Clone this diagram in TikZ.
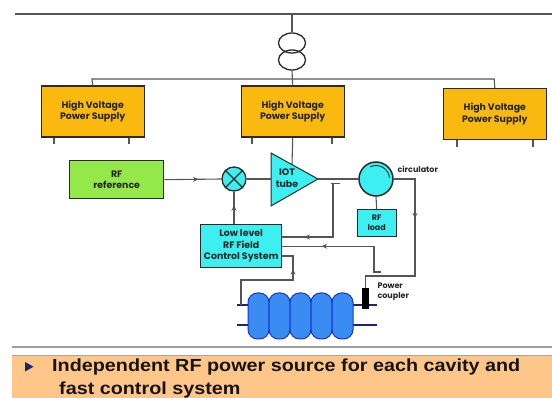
\documentclass[tikz,border=0pt]{standalone}
\usepackage{fontspec}
\setmainfont{Liberation Sans}
\newfontfamily\boxfam{Poppins}
\usetikzlibrary{decorations.markings,arrows.meta,shapes.geometric}
\definecolor{hvyellow}{HTML}{F9B90F}
\definecolor{rfgreen}{HTML}{94E84A}
\definecolor{cyanfill}{HTML}{3CEFF0}
\definecolor{linegray}{HTML}{555555}
\definecolor{edgedark}{HTML}{2A2A2A}
\definecolor{cavblue}{HTML}{3B8CF2}
\definecolor{cavedge}{HTML}{1436C8}
\definecolor{pipenavy}{HTML}{1A2380}
\definecolor{band}{HTML}{FFC68A}
\definecolor{bulletnavy}{HTML}{14286E}
\newcommand\dgfont{\boxfam\bfseries\fontsize{9.4}{11.5}\selectfont}
\newcommand\smfont{\boxfam\bfseries\fontsize{8}{10}\selectfont}
\begin{document}
\begin{tikzpicture}[x=1pt,y=-1pt,
  wire/.style={draw=linegray,line width=1.1pt},
  blk/.style={draw=edgedark,line width=1.4pt,anchor=north west,inner sep=0pt,align=center,font=\dgfont,text=black!85},
  hvbox/.style={blk,fill=hvyellow,minimum width=103pt,minimum height=51pt},
  midarrow/.style={postaction={decorate},decoration={markings,mark=at position #1 with {\arrow[fill=linegray,draw=linegray]{Stealth[length=5.5pt,width=5pt]}}}},
  trafo/.style={ellipse,draw=edgedark,line width=1.3pt,minimum width=27pt,minimum height=20pt,inner sep=0pt},
  cell/.style={draw=cavedge,line width=1pt,fill=cavblue,rounded corners=9.5pt,minimum width=21pt,minimum height=46pt,inner sep=0pt},
  pipe/.style={draw=pipenavy,line width=1.5pt},
]
\useasboundingbox (0,0) rectangle (552,398);

% grid line and transformer
\coordinate (gridl) at (15,14);
\coordinate (gridr) at (552,14);
\coordinate (tap) at (292,14);
\draw[wire] (gridl) -- (gridr);
\node[trafo] (tr1) at (292,43) {};
\node[trafo] (tr2) at (292,60) {};
\draw[wire] (tap) -- (tr1.north);

% HV supplies
\node[hvbox] (hv1) at (40.5,85.5) {High Voltage\\Power Supply};
\node[hvbox] (hv2) at (240.5,85.5) {High Voltage\\Power Supply};
\node[hvbox] (hv3) at (442.6,88) {High Voltage\\Power Supply};
\coordinate (busl) at (92,79);
\coordinate (busr) at (494.2,79);
\draw[wire] (tr2.south) -- (hv2.north);
\draw[wire] (hv1.north) -- (busl) -- (busr) -- (hv3.north);
\foreach \n/\a/\b in {hv1/54/129,hv2/252/332,hv3/457/533}{
  \draw[wire] (\n.south -| \a,0) -- ++(0,6.5);
  \draw[wire] (\n.south -| \b,0) -- ++(0,6.5);
}

% RF reference and mixer
\node[blk,fill=rfgreen,minimum width=94pt,minimum height=38pt] (ref) at (69,160) {RF\\reference};
\node[circle,draw=edgedark,line width=1.3pt,fill=cyanfill,minimum size=24pt,inner sep=0pt] (mix) at (234,179) {};
\draw[line width=1.2pt,draw=edgedark] (mix.north west) -- (mix.south east) (mix.north east) -- (mix.south west);
\draw[wire,midarrow=0.6] (ref.east) -- (mix.west);

% IOT tube
\coordinate (iotA) at (271,153);
\coordinate (iotB) at (271,206);
\coordinate (iotC) at (318,179);
\coordinate (iotpwr) at (292,164.6);
\draw[wire] (hv2.south) -- (iotpwr);
\draw[draw=edgedark,line width=1pt,fill=cyanfill] (iotA) -- (iotC) -- (iotB) -- cycle;
\node[font=\dgfont,align=center,text=black!85] (iot) at (287,178) {IOT\\tube};
\draw[wire] (mix.east) -- (mix.east -| iotA);

% circulator and RF load
\node[circle,draw=edgedark,line width=1.5pt,fill=cyanfill,minimum size=34pt,inner sep=0pt] (circ) at (376,179) {};
\draw[draw=edgedark,line width=0.9pt] (circ.center) ++(-115:13.5) arc[start angle=-115,end angle=-5,radius=13.5];
\node[font=\smfont,anchor=west,text=black!85] (circlab) at (394,169) {circulator};
\node[blk,fill=cyanfill,minimum width=39pt,minimum height=27pt,font=\smfont] (load) at (356.5,209) {RF\\load};
\draw[wire] (circ.south) -- (load.north);
\draw[wire] (iotC) -- (circ.west);

% LLRF
\node[blk,fill=cyanfill,minimum width=81pt,minimum height=43pt] (llrf) at (200,224) {Low level\\RF Field\\Control System};
\draw[wire,midarrow=0.58] (llrf.north -| mix.south) -- (mix.south);

% power coupler
\node[fill=black,minimum width=7pt,minimum height=21pt,inner sep=0pt] (pc) at (365.5,298.5) {};
\node[font=\smfont,anchor=north west,align=left,text=black!85] (pclab) at (374,279) {Power\\coupler};
\coordinate (c1) at (415,276);
\draw[wire,midarrow=0.338] (circ.east) -| (c1) -| (pc.north);

% directional coupler tap
\coordinate (dcl) at (330.5,183.5);
\coordinate (dcr) at (340,183.5);
\coordinate (dc) at (333,183.5);
\draw[wire] (dcl) -- (dcr);
\path (llrf.north east) ++(0,13) coordinate (f1);
\draw[wire,midarrow=0.79] (dc) |- (f1);

% probe feedback
\coordinate (probe) at (381,272);
\draw[wire,midarrow=0.685] (probe) -- ++(-7,0) |- (llrf.east);

% cavity
\draw[pipe] (237,305) -- (248,305) (353,305) -- (362,305) (369,305) -- (377,305);
\draw[pipe] (237,325) -- (248,325) (353,325) -- (377,325);
\foreach \i in {0,...,4}{
  \node[cell] (cell\i) at ({258.5+21*\i},316) {};
}
\coordinate (cavpick) at (241,305);
\coordinate (k3) at (293,280);
\path (llrf.north east) ++(0,32) coordinate (f3);
\draw[wire,midarrow=0.788] (cavpick) |- (k3) |- (f3);

% footer
\draw[line width=2pt,draw=gray!75] (12,347) -- (552,347);
\fill[band] (12,355) rectangle (552,398);
\draw[line width=0.8pt,draw=gray!70] (12,355) -- (552,355);
\fill[bulletnavy] (25,362) -- (33.5,366.7) -- (25,371.5) -- cycle;
\node[anchor=base west,inner sep=0pt,font=\bfseries\fontsize{17.5}{20}\selectfont,text=black!92] (b1) at (52,371.7) {\scalebox{1.13}[1]{Independent RF power source for each cavity and}};
\node[anchor=base west,inner sep=0pt,font=\bfseries\fontsize{17.5}{20}\selectfont,text=black!92] (b2) at (59,394) {\scalebox{1.13}[1]{fast control system}};
\end{tikzpicture}
\end{document}
